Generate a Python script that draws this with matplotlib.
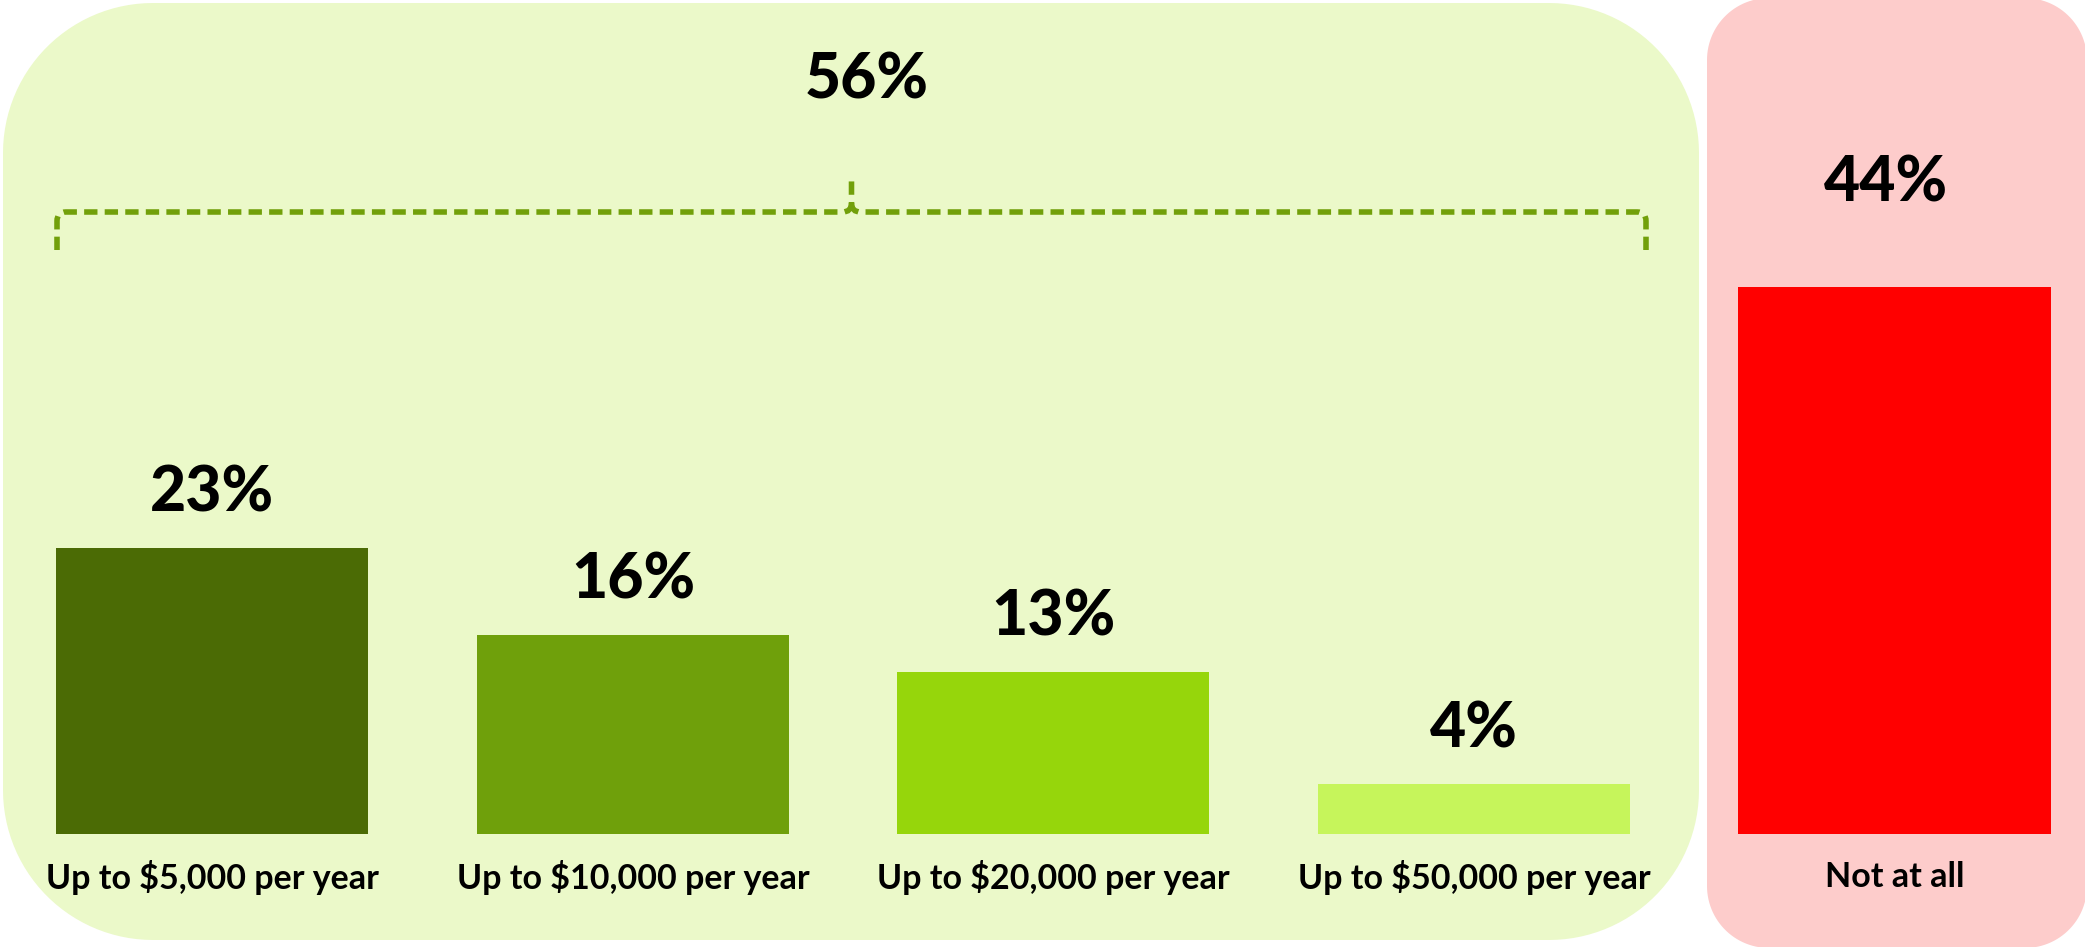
import matplotlib
matplotlib.use("Agg")
import numpy as np
from matplotlib import pyplot as plt
from matplotlib.patches import PathPatch
from matplotlib.path import Path
from matplotlib.transforms import Affine2D

# 数据
categories = ["Up to $5,000 per year", "Up to $10,000 per year",
              "Up to $20,000 per year", "Up to $50,000 per year", "Not at all"]
values = [23, 16, 13, 4, 44]
bar_colors = ["#4b6b05", "#6fa00b", "#96d60b", "#c6f55b", "#ff0000"]

plt.rcParams['font.family'] = ['Lato', 'DejaVu Sans']


def round_rect(x0, y0, w, h, r):
    """圆角矩形路径（真圆弧）"""
    t = np.linspace(0, np.pi / 2, 30)
    pts = []
    for cx, cy, a0 in [(x0 + w - r, y0 + r, -np.pi / 2), (x0 + w - r, y0 + h - r, 0),
                       (x0 + r, y0 + h - r, np.pi / 2), (x0 + r, y0 + r, np.pi)]:
        pts += list(zip(cx + r * np.cos(a0 + t), cy + r * np.sin(a0 + t)))
    pts.append(pts[0])
    return Path(pts, closed=True)


fig = plt.figure(figsize=(20.85, 9.47), dpi=100)
px = Affine2D().scale(1 / 100) + fig.dpi_scale_trans  # 像素坐标，原点在左下

# 背景圆角框
fig.patches.append(PathPatch(round_rect(3, 7, 1696, 937, 150), fc="#ebf9c9", ec="none",
                             transform=px, figure=fig, zorder=-2))
fig.patches.append(PathPatch(round_rect(1707, -1, 380, 950, 62), fc="#fdcccb", ec="none",
                             transform=px, figure=fig, zorder=-2))

ax = fig.add_axes([0, 0, 1, 1])
ax.patch.set_alpha(0)
x = range(len(values))
ax.bar(x, values, width=0.742, color=bar_colors)
ax.set_xlim(-0.505, 4.453)
ax.set_ylim(-9.09, 67.1)
ax.axis("off")

for i, v in enumerate(values):
    if i == len(values) - 1:
        ax.text(i - 0.02, v + 8.3, f"{v}%", ha="center", va="center",
                fontsize=45, fontweight="black")
    else:
        ax.text(i, v + 4.4, f"{v}%", ha="center", va="center",
                fontsize=45, fontweight="black")
    ax.text(i, -3.46, categories[i], ha="center", va="center",
            fontsize=24.5, fontweight="bold")

# 上方括号：前四项合计
total = sum(values[:4])
ax.text(1.556, 60.6, f"{total}%", ha="center", va="center",
        fontsize=45, fontweight="black")

yb, ye, yt = 947 - 212, 947 - 250, 947 - 175
xl, xr, xm = 57, 1646, 851.5
r = 9
verts = [(xl, ye), (xl, yb - r), (xl, yb), (xl + r, yb),
         (xm - r, yb), (xm, yb), (xm, yb + r), (xm, yt)]
codes = [Path.MOVETO, Path.LINETO, Path.CURVE3, Path.CURVE3,
         Path.LINETO, Path.CURVE3, Path.CURVE3, Path.LINETO]
verts2 = [(xr, ye), (xr, yb - r), (xr, yb), (xr - r, yb),
          (xm + r, yb), (xm, yb), (xm, yb + r)]
codes2 = [Path.MOVETO, Path.LINETO, Path.CURVE3, Path.CURVE3,
          Path.LINETO, Path.CURVE3, Path.CURVE3]
for vv, cc in [(verts, codes), (verts2, codes2)]:
    fig.patches.append(PathPatch(Path(vv, cc), fc="none", ec="#72a00a", lw=4.0,
                                 linestyle=(0, (2.4, 1.3)), capstyle="butt",
                                 transform=px, figure=fig, zorder=-1))

plt.savefig("out.png", dpi=100)
